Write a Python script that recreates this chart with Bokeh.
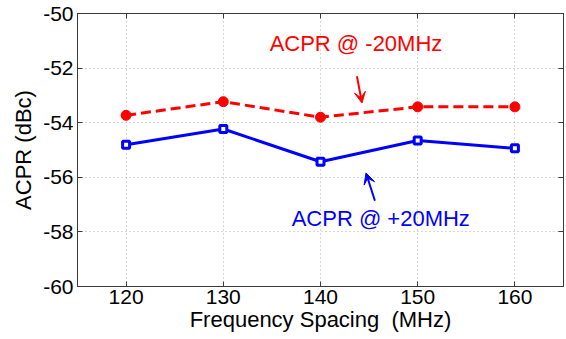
from bokeh.plotting import figure
from bokeh.models import Arrow, VeeHead, Label, Range1d, FixedTicker, LinearAxis
from bokeh.embed import file_html
from bokeh.resources import INLINE

freq = [120, 130, 140, 150, 160]
acpr_minus20 = [-53.73, -53.23, -53.8, -53.42, -53.42]
acpr_plus20 = [-54.81, -54.23, -55.43, -54.65, -54.94]
x_ticks = [120, 130, 140, 150, 160]
y_ticks = [-60, -58, -56, -54, -52, -50]

FONT = "Liberation Sans"

p = figure(width=566, height=339, output_backend="svg", toolbar_location=None,
           x_range=Range1d(115, 165), y_range=Range1d(-60, -50),
           min_border_left=77, min_border_right=3, min_border_top=13, min_border_bottom=53)

p.background_fill_color = "white"
p.border_fill_color = "white"
p.outline_line_color = "#3a3a3a"
p.outline_line_width = 1

p.add_layout(LinearAxis(), "right")
p.add_layout(LinearAxis(), "above")

for ax in p.axis:
    ax.axis_line_color = "#3a3a3a"
    ax.major_tick_line_color = "#3a3a3a"
    ax.major_tick_in = 5
    ax.major_tick_out = 0
    ax.minor_tick_line_color = None
    ax.major_label_text_font = FONT
    ax.major_label_text_font_size = "21px"
    ax.major_label_text_color = "black"
    ax.axis_label_text_font = FONT
    ax.axis_label_text_font_size = "22px"
    ax.axis_label_text_font_style = "normal"
    ax.axis_label_text_color = "black"

for ax in p.xaxis:
    ax.ticker = FixedTicker(ticks=x_ticks)
    ax.major_label_overrides = {t: str(t) for t in x_ticks}
for ax in p.yaxis:
    ax.ticker = FixedTicker(ticks=y_ticks)
    ax.major_label_overrides = {t: str(t) for t in y_ticks}

for ax in (p.right[0], p.above[0]):
    ax.major_label_text_font_size = "0px"
    ax.major_label_text_color = None
    ax.major_label_standoff = 0

p.below[0].axis_label = "Frequency Spacing\u00a0 (MHz)"
p.left[0].axis_label = "ACPR (dBc)"
p.below[0].major_label_standoff = 3
p.below[0].axis_label_standoff = 0
p.left[0].major_label_standoff = 4
p.left[0].axis_label_standoff = 4

for g in (p.xgrid, p.ygrid):
    g.grid_line_color = "#b0b0b0"
    g.grid_line_dash = "1 3"
    g.grid_line_width = 1

p.line(freq, acpr_minus20, line_color="#ff0000", line_width=3, line_dash="10 5")
p.scatter(freq, acpr_minus20, marker="circle", size=10, fill_color="#ff0000", line_color="#ff0000")

p.line(freq, acpr_plus20, line_color="#0000ff", line_width=3)
p.scatter(freq, acpr_plus20, marker="square", size=7, fill_color="white", line_color="#0000ff", line_width=3)

p.add_layout(Label(x=143.65, y=-51.1, text="ACPR @ -20MHz", text_color="#ff0000",
                   text_font=FONT, text_font_size="22px", text_align="center", text_baseline="middle"))
p.add_layout(Arrow(x_start=143.75, y_start=-52.3, x_end=144.27, y_end=-53.28,
                   line_color="#ff0000", line_width=2,
                   end=VeeHead(size=11, fill_color="#ff0000", line_color="#ff0000", line_width=1)))

p.add_layout(Label(x=146.2, y=-57.52, text="ACPR @ +20MHz", text_color="#0000ff",
                   text_font=FONT, text_font_size="22px", text_align="center", text_baseline="middle"))
p.add_layout(Arrow(x_start=145.6, y_start=-56.86, x_end=144.68, y_end=-55.84,
                   line_color="#0000ff", line_width=2,
                   end=VeeHead(size=11, fill_color="#0000ff", line_color="#0000ff", line_width=1)))

open("out.html", "w").write(file_html(p, INLINE))
